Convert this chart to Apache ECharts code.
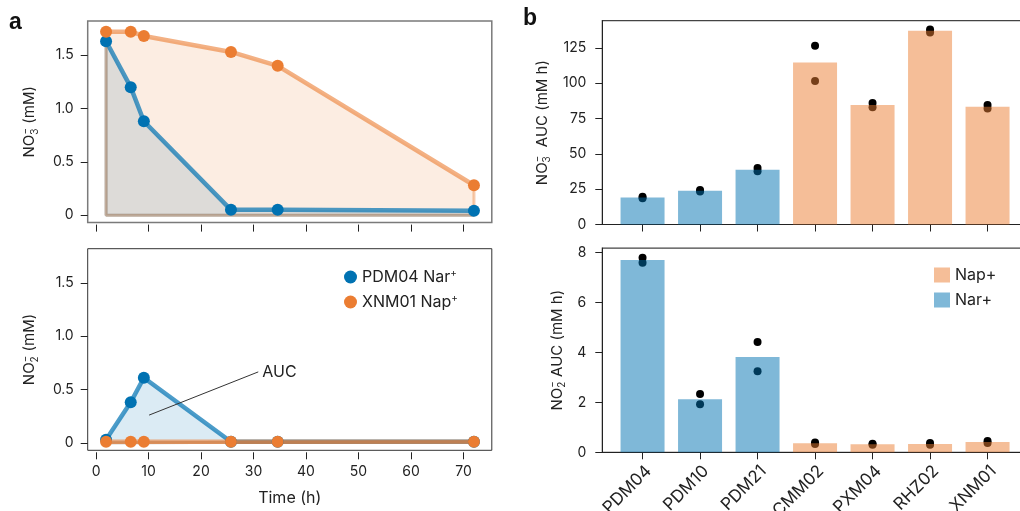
<!DOCTYPE html>
<html>
<head>
<meta charset="utf-8">
<script src="https://cdn.jsdelivr.net/npm/echarts@6/dist/echarts.min.js"></script>
<style>
  html, body { margin: 0; padding: 0; background: #fff; }
  #chart { width: 1020px; height: 511px; }
</style>
</head>
<body>
<div id="chart"></div>
<script>
// ---- panel a: nitrate / nitrite time courses ----
const timeHours    = [1.9, 6.6, 9.1, 25.7, 34.6, 72.0];
const nitratePDM04 = [1.63, 1.20, 0.88, 0.05, 0.05, 0.04];
const nitrateXNM01 = [1.72, 1.72, 1.68, 1.53, 1.40, 0.28];
const nitritePDM04 = [0.03, 0.38, 0.61, 0.01, 0.01, 0.01];
const nitriteXNM01 = [0.01, 0.01, 0.01, 0.01, 0.01, 0.01];
const timeTicks = [0, 10, 20, 30, 40, 50, 60, 70];
const concTicks = [0, 0.5, 1.0, 1.5];

// ---- panel b: area under the curve per strain ----
const strains     = ['PDM04', 'PDM10', 'PDM21', 'CMM02', 'PXM04', 'RHZ02', 'XNM01'];
const strainGroup = ['Nar+', 'Nar+', 'Nar+', 'Nap+', 'Nap+', 'Nap+', 'Nap+'];
const nitrateAUC     = [19.1, 23.8, 38.7, 114.6, 84.5, 137.1, 83.3];
const nitrateAUCRep1 = [19.7, 24.4, 39.9, 126.4, 85.9, 137.9, 84.6];
const nitrateAUCRep2 = [18.5, 23.3, 37.6, 101.5, 82.9, 135.9, 82.1];
const nitriteAUC     = [7.69, 2.12, 3.81, 0.36, 0.32, 0.33, 0.41];
const nitriteAUCRep1 = [7.78, 2.33, 4.41, 0.39, 0.34, 0.37, 0.45];
const nitriteAUCRep2 = [7.58, 1.92, 3.24, 0.33, 0.30, 0.30, 0.37];
const nitrateAUCTicks = [0, 25, 50, 75, 100, 125];
const nitriteAUCTicks = [0, 2, 4, 6, 8];

const FONT = 'Inter, "Noto Sans", sans-serif';
const INK = '#222';
const BLUE = '#0072B2';
const ORANGE = '#EB7D32';
const BLUE_LINE = 'rgba(0,114,178,0.7)';
const ORANGE_LINE = 'rgba(235,125,50,0.6)';
const BLUE_FILL = 'rgba(0,114,178,0.2)';
const ORANGE_FILL = 'rgba(235,125,50,0.2)';
const BLUE_EDGE = 'rgba(0,114,178,0.35)';
const ORANGE_EDGE = 'rgba(235,125,50,0.4)';
const BLUE_BAR = 'rgba(0,114,178,0.5)';
const ORANGE_BAR = 'rgba(235,125,50,0.5)';

const pairs = (xs, ys) => xs.map((x, i) => [x, ys[i]]);
// closing edges of the filled polygon under a time course
const closure = (xs, ys) => [[xs[xs.length - 1], ys[ys.length - 1]], [xs[xs.length - 1], 0], [xs[0], 0], [xs[0], ys[0]]];

// ion formula: charge sign stacked over the subscript digit
const titleRich = {
  n:   { fontSize: 15, fontFamily: FONT, color: INK, lineHeight: 20 },
  sub: { fontSize: 10, fontFamily: FONT, color: INK, lineHeight: 11, verticalAlign: 'bottom' },
  sup: { fontSize: 10, fontFamily: FONT, color: INK, lineHeight: 11, verticalAlign: 'top', padding: [0, 0, 0, -6] }
};
const ionTitle = (digit, rest) => '{n|NO}{sub|' + digit + '}{sup|\u2212}{n|' + rest + '}';

const tickStyle = { show: true, length: 7, lineStyle: { color: INK, width: 1 } };
const labelBase = { fontFamily: FONT, fontSize: 14, color: INK };

function timeAxis(gridIndex, showLabels) {
  return {
    type: 'value', gridIndex: gridIndex, min: -1.6, max: 75.4, offset: 2,
    axisLine: { show: false, onZero: false },
    axisTick: Object.assign({ customValues: timeTicks }, tickStyle),
    axisLabel: Object.assign({ show: showLabels, customValues: timeTicks, margin: 12 }, labelBase),
    splitLine: { show: false },
    name: showLabels ? 'Time (h)' : '', nameLocation: 'middle', nameGap: 38,
    nameTextStyle: { fontFamily: FONT, fontSize: 16, color: INK }
  };
}
function concAxis(gridIndex, digit) {
  return {
    type: 'value', gridIndex: gridIndex, min: -0.07, max: 1.82,
    axisLine: { show: false, onZero: false },
    axisTick: Object.assign({ customValues: concTicks }, tickStyle),
    axisLabel: Object.assign({ customValues: concTicks, margin: 14,
      formatter: v => v === 0 ? '0' : v.toFixed(1) }, labelBase),
    splitLine: { show: false },
    name: ionTitle(digit, ' (mM)'), nameLocation: 'middle', nameGap: 48,
    nameTextStyle: { rich: titleRich }
  };
}
function strainAxis(gridIndex, showLabels) {
  const idx = strains.map((s, i) => i);
  return {
    type: 'value', gridIndex: gridIndex, min: -0.7, max: 6.7,
    axisLine: { show: true, onZero: false, lineStyle: { color: INK, width: 1 } },
    axisTick: Object.assign({ customValues: idx }, tickStyle),
    axisLabel: Object.assign({ show: showLabels, customValues: idx, rotate: 45, margin: 10,
      verticalAlign: 'top', formatter: v => strains[Math.round(v)] }, labelBase, { fontSize: 17 }),
    splitLine: { show: false }
  };
}
function aucAxis(gridIndex, max, ticks, digit, gap, spacer) {
  return {
    type: 'value', gridIndex: gridIndex, min: 0, max: max,
    axisLine: { show: true, onZero: false, lineStyle: { color: INK, width: 1 } },
    axisTick: Object.assign({ customValues: ticks }, tickStyle),
    axisLabel: Object.assign({ customValues: ticks, margin: 16 }, labelBase),
    splitLine: { show: false },
    name: ionTitle(digit, spacer + 'AUC (mM h)'), nameLocation: 'middle', nameGap: gap,
    nameTextStyle: { rich: titleRich }
  };
}

function courseSeries(name, axis, xs, ys, mark, line, fill) {
  return {
    name: name, type: 'line', xAxisIndex: axis, yAxisIndex: axis,
    data: pairs(xs, ys), symbol: 'circle', symbolSize: 12,
    itemStyle: { color: mark }, lineStyle: { color: line, width: 4.5 },
    areaStyle: { color: fill, origin: 0 }, emphasis: { disabled: true }
  };
}
function edgeSeries(axis, xs, ys, color) {
  return {
    name: 'edge', type: 'line', xAxisIndex: axis, yAxisIndex: axis,
    data: closure(xs, ys), symbol: 'none', lineStyle: { color: color, width: 3 },
    emphasis: { disabled: true }, silent: true
  };
}
function groupBars(name, axis, values, color) {
  return {
    name: name, type: 'bar', xAxisIndex: axis, yAxisIndex: axis,
    data: values.map((v, i) => [i, v]).filter((d, i) => strainGroup[i] === name),
    barWidth: 44, barGap: '-100%', itemStyle: { color: color }, z: 3,
    emphasis: { disabled: true }
  };
}
function repDots(axis, values) {
  return {
    name: 'replicate', type: 'scatter', xAxisIndex: axis, yAxisIndex: axis,
    data: pairs(values.map((v, i) => i), values), symbolSize: 8,
    itemStyle: { color: '#000', opacity: 1 }, z: 2, emphasis: { disabled: true }
  };
}

const chart = echarts.init(document.getElementById('chart'), null, { renderer: 'canvas' });
chart.setOption({
  animation: false,
  backgroundColor: '#fff',
  textStyle: { fontFamily: FONT },
  grid: [
    { left: 87.7, top: 21, width: 404.1, height: 201.6, show: true, borderColor: '#7a7a7a', borderWidth: 1.5, outerBoundsMode: 'none' },
    { left: 87.7, top: 248.7, width: 404.1, height: 201.6, show: true, borderColor: '#333', borderWidth: 1, outerBoundsMode: 'none' },
    { left: 602.3, top: 20.7, width: 425.5, height: 203.8, show: true, borderColor: '#444', borderWidth: 1.2, outerBoundsMode: 'none' },
    { left: 602.3, top: 248.1, width: 425.5, height: 204.2, show: true, borderColor: '#444', borderWidth: 1.2, outerBoundsMode: 'none' }
  ],
  xAxis: [timeAxis(0, false), timeAxis(1, true), strainAxis(2, false), strainAxis(3, true)],
  yAxis: [
    concAxis(0, '3'), concAxis(1, '2'),
    aucAxis(2, 144.2, nitrateAUCTicks, '3', 50, '  '),
    aucAxis(3, 8.17, nitriteAUCTicks, '2', 35, ' ')
  ],
  legend: [
    {
      data: ['PDM04 Nar+', 'XNM01 Nap+'], orient: 'vertical', left: 339, top: 263,
      icon: 'circle', itemWidth: 13, itemHeight: 13, itemGap: 8,
      formatter: n => '{t|' + n.slice(0, -1) + '}{s|+}',
      textStyle: { rich: {
        t: { fontFamily: FONT, fontSize: 16, color: INK, lineHeight: 18 },
        s: { fontFamily: FONT, fontSize: 10, color: INK, lineHeight: 10, verticalAlign: 'top' }
      } }
    },
    {
      data: ['Nap+', 'Nar+'], orient: 'vertical', left: 929, top: 262,
      icon: 'rect', itemWidth: 16, itemHeight: 15, itemGap: 9,
      textStyle: { fontFamily: FONT, fontSize: 16, color: INK }
    }
  ],
  graphic: [
    { type: 'text', left: 9, top: 11, style: { text: 'a', font: 'bold 23px "Liberation Sans", Arial, sans-serif', fill: '#111' } },
    { type: 'text', left: 523, top: 7, style: { text: 'b', font: 'bold 23px "Liberation Sans", Arial, sans-serif', fill: '#111' } }
  ],
  series: [
    // nitrate time courses
    edgeSeries(0, timeHours, nitratePDM04, BLUE_EDGE),
    courseSeries('PDM04 Nar+', 0, timeHours, nitratePDM04, BLUE, BLUE_LINE, BLUE_FILL),
    edgeSeries(0, timeHours, nitrateXNM01, ORANGE_EDGE),
    courseSeries('XNM01 Nap+', 0, timeHours, nitrateXNM01, ORANGE, ORANGE_LINE, ORANGE_FILL),
    // nitrite time courses
    edgeSeries(1, timeHours, nitritePDM04, BLUE_EDGE),
    courseSeries('PDM04 Nar+', 1, timeHours, nitritePDM04, BLUE, BLUE_LINE, BLUE_FILL),
    edgeSeries(1, timeHours, nitriteXNM01, ORANGE_EDGE),
    courseSeries('XNM01 Nap+', 1, timeHours, nitriteXNM01, ORANGE, ORANGE_LINE, ORANGE_FILL),
    // AUC pointer
    {
      name: 'pointer', type: 'line', xAxisIndex: 1, yAxisIndex: 1,
      data: [[10.1, 0.26], [30.9, 0.665]], symbol: 'none', silent: true,
      lineStyle: { color: '#333', width: 1 },
      endLabel: { show: true, formatter: 'AUC', distance: 4, fontFamily: FONT, fontSize: 16, color: INK }
    },
    // nitrate AUC
    repDots(2, nitrateAUCRep1), repDots(2, nitrateAUCRep2),
    groupBars('Nar+', 2, nitrateAUC, BLUE_BAR), groupBars('Nap+', 2, nitrateAUC, ORANGE_BAR),
    // nitrite AUC
    repDots(3, nitriteAUCRep1), repDots(3, nitriteAUCRep2),
    groupBars('Nar+', 3, nitriteAUC, BLUE_BAR), groupBars('Nap+', 3, nitriteAUC, ORANGE_BAR)
  ]
});
</script>
</body>
</html>
